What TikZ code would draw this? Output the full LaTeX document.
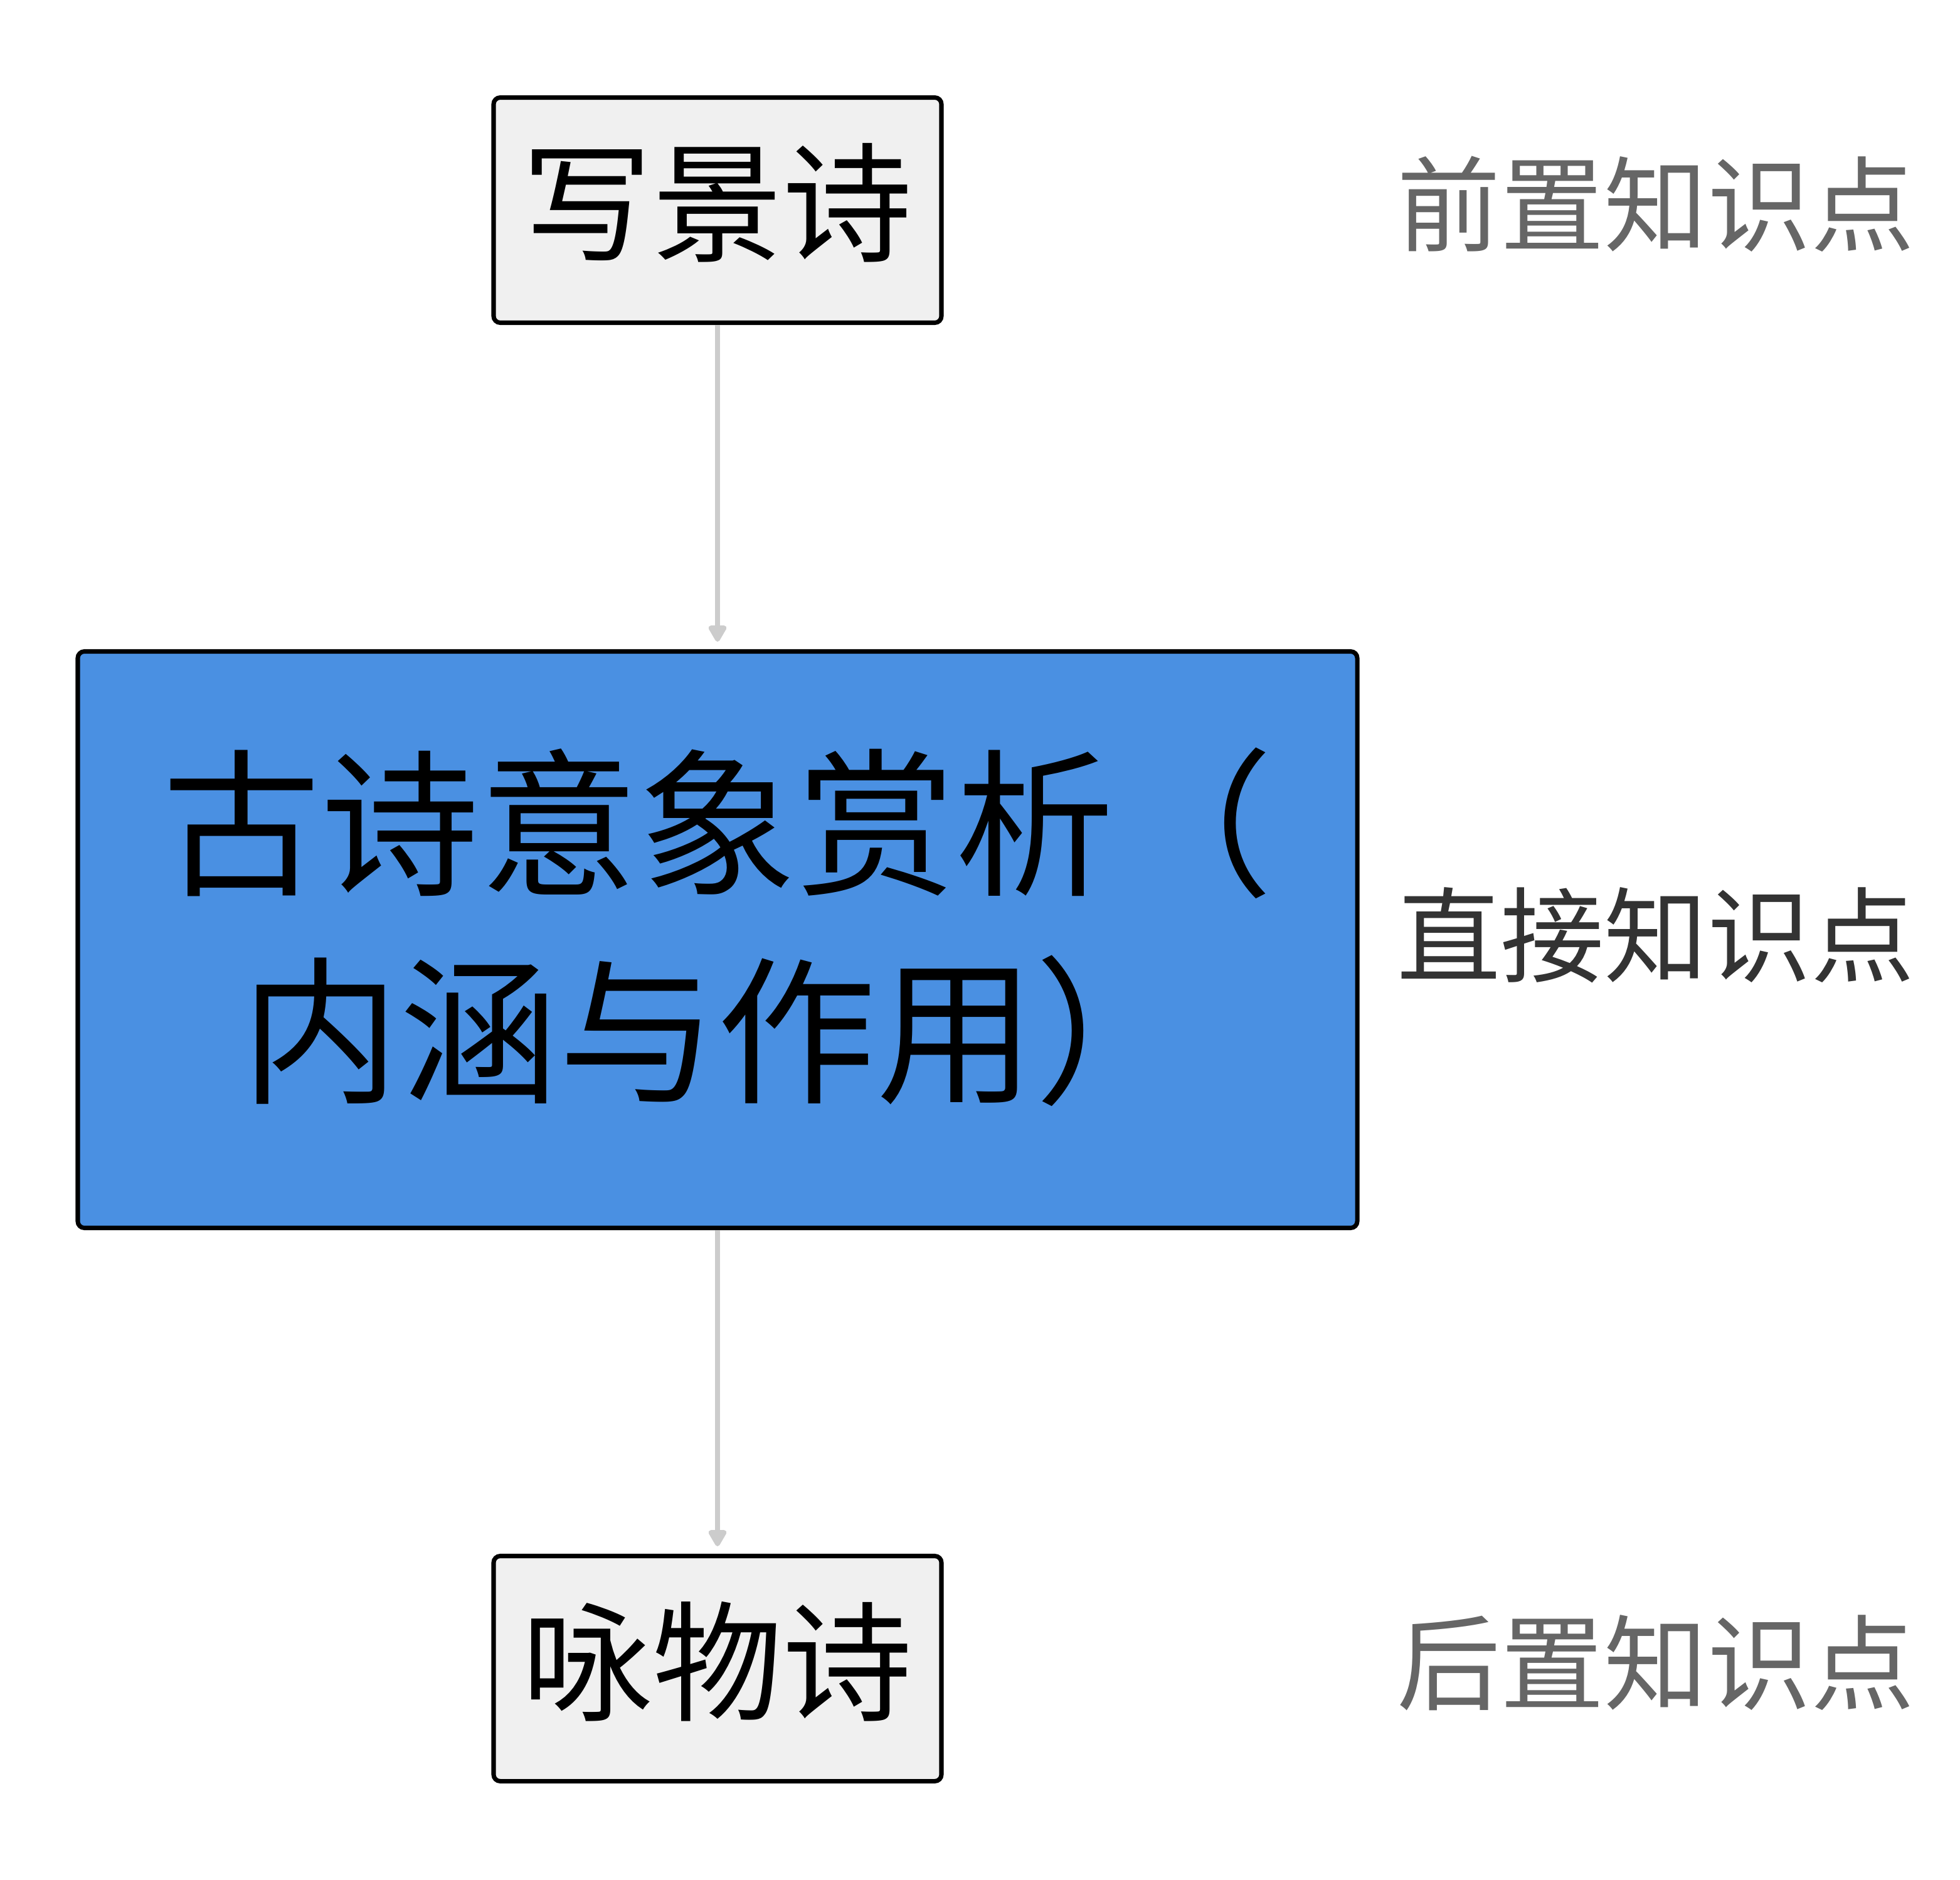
\documentclass[tikz,border=0pt]{standalone}
\usepackage{fontspec}
\setmainfont{Noto Sans CJK SC}
\usetikzlibrary{arrows.meta,positioning}
\definecolor{boxgray}{HTML}{F0F0F0}
\definecolor{focusblue}{HTML}{4A90E2}
\definecolor{linkgray}{HTML}{CCCCCC}
\definecolor{tagmid}{HTML}{666666}
\definecolor{tagdark}{HTML}{333333}

\begin{document}
\begin{tikzpicture}[
    topic/.style={draw, line width=2pt, rounded corners=3pt, fill=boxgray,
      minimum width=7.14cm, minimum height=3.59cm, inner sep=0pt,
      font=\fontsize{59}{70}\selectfont},
    focus/.style={topic, fill=focusblue, minimum width=20.4cm,
      minimum height=9.19cm,
      font=\fontsize{72}{94}\selectfont},
    tag/.style={inner sep=0pt, text=tagmid, font=\fontsize{47}{56}\selectfont},
    link/.style={-{Triangle[length=0.3cm, width=0.32cm, round]},
      line width=2.4pt, linkgray, shorten >=0.12cm}
  ]
  \useasboundingbox (0,0) rectangle (31.25,-29.97);

  \node[topic] (pre) at (11.44,-3.35) {\raisebox{0.4cm}{写景诗}};
  \node[focus] (core) at (11.44,-14.98)
    {\raisebox{0.2cm}[\height][\depth]{\parbox{20cm}{\centering
      古诗意象赏析（\\内涵与作用）}}};
  \node[topic] (post) at (11.44,-26.60) {\raisebox{0.4cm}{咏物诗}};

  \draw[link] (pre) -- (core);
  \draw[link] (core) -- (post);

  \node[tag] (pretag) at (26.40,-3.25) {前置知识点};
  \node[tag, text=tagdark] (coretag) at (26.40,-14.91) {直接知识点};
  \node[tag] (posttag) at (26.40,-26.51) {后置知识点};
\end{tikzpicture}
\end{document}
